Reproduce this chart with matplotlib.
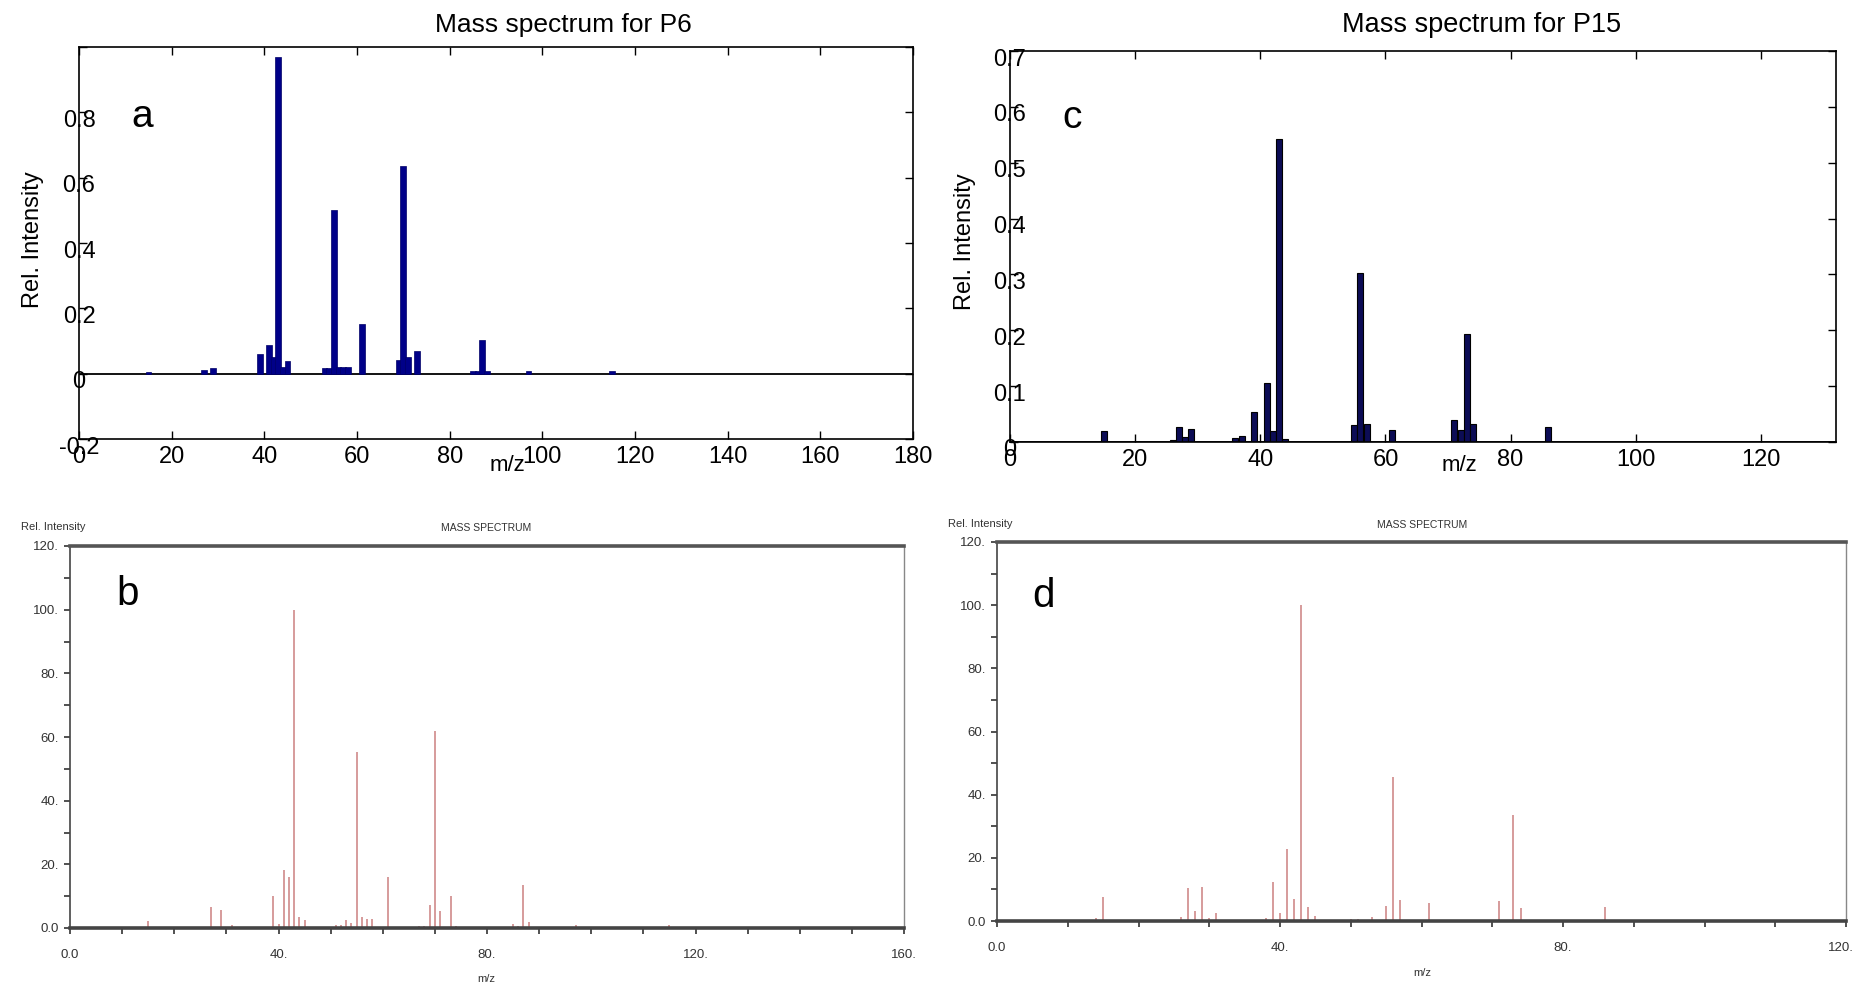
import matplotlib
matplotlib.use("Agg")
import matplotlib.pyplot as plt
import matplotlib.transforms as mtransforms
from matplotlib import font_manager

# figure size in pixels
W, H = 1857, 989

# panel a - measured spectrum P6
a_mz = [15, 27, 29, 39, 41, 42, 43, 44, 45, 53, 54, 55, 56, 57, 58, 61, 69, 70, 71, 73, 85, 86, 87, 88, 97, 115]
a_int = [0.005, 0.012, 0.017, 0.061, 0.087, 0.05, 0.97, 0.02, 0.04, 0.017, 0.017, 0.50, 0.02, 0.02, 0.02,
         0.152, 0.043, 0.635, 0.05, 0.068, 0.009, 0.009, 0.104, 0.009, 0.007, 0.007]

# panel b - library spectrum
b_mz = [15, 27, 29, 31, 39, 40, 41, 42, 43, 44, 45, 50, 51, 52, 53, 54, 55, 56, 57, 58, 61, 62,
        67, 68, 69, 70, 71, 73, 74, 85, 86, 87, 88, 97, 115]
b_int = [2.1, 6.7, 5.8, 1.0, 10.0, 1.4, 18.3, 16.0, 100, 3.5, 2.4, 0.3, 1.0, 0.8, 2.6, 1.6, 55.3, 3.5, 2.9, 2.9,
         16.0, 0.3, 0.5, 0.5, 7.1, 61.9, 5.2, 10.0, 0.5, 1.4, 0.5, 13.6, 1.9, 1.0, 1.0]

# panel c - measured spectrum P15
c_mz = [15, 26, 27, 28, 29, 36, 37, 39, 41, 42, 43, 44, 55, 56, 57, 61, 71, 72, 73, 74, 86]
c_int = [0.019, 0.003, 0.027, 0.009, 0.024, 0.007, 0.01, 0.054, 0.105, 0.02, 0.542, 0.006, 0.03, 0.302,
         0.032, 0.021, 0.039, 0.021, 0.193, 0.032, 0.027]

# panel d - library spectrum
d_mz = [14, 15, 26, 27, 28, 29, 30, 31, 37, 38, 39, 40, 41, 42, 43, 44, 45, 50, 51, 53, 55, 56, 57, 59,
        61, 71, 73, 74, 86, 101]
d_int = [0.8, 7.5, 1.2, 10.6, 3.3, 10.9, 1.1, 2.4, 0.3, 1.1, 12.3, 2.4, 22.8, 7.0, 100, 4.3, 1.6, 0.5, 0.5,
         1.2, 4.9, 45.5, 6.7, 0.3, 5.6, 6.4, 33.6, 4.0, 4.5, 0.3]


def pick(*names):
    for n in names:
        try:
            font_manager.findfont(n, fallback_to_default=False)
            return n
        except ValueError:
            pass
    return "DejaVu Sans"


SANS = pick("Liberation Sans", "DejaVu Sans")
plt.rcParams["font.family"] = SANS


def box(l, t, r, b):
    return [l / W, 1 - b / H, (r - l) / W, (b - t) / H]


def ftext(x, y, s, **kw):
    fig.text(x / W, 1 - y / H, s, ha="center", va="center", **kw)


fig = plt.figure(figsize=(W / 100, H / 100), dpi=100)
down = mtransforms.ScaledTranslation(0, -6 / 100, fig.dpi_scale_trans)


def matlab_axes(ax, xmax, ylim, yticks, ylabels):
    ax.set_xlim(0, xmax)
    ax.set_ylim(*ylim)
    ax.set_yticks(yticks)
    ax.set_yticklabels(ylabels)
    ax.axhline(0, color="black", lw=1.3, zorder=1)
    ax.tick_params(direction="in", top=True, right=True, length=6, width=1, labelsize=17)
    ax.tick_params(axis="y", pad=0)
    ax.tick_params(axis="x", pad=5)
    for lbl in ax.get_yticklabels():
        lbl.set_horizontalalignment("center")
        lbl.set_transform(lbl.get_transform() + down)
    for sp in ax.spines.values():
        sp.set_linewidth(1.2)


# ---- panel a
ax_a = fig.add_axes(box(79, 47, 913, 439))
ax_a.bar(a_mz, a_int, width=1.25, color="#000088", edgecolor="#000066", linewidth=0.5, zorder=2)
matlab_axes(ax_a, 180, (-0.2, 1.0), [-0.2, 0, 0.2, 0.4, 0.6, 0.8, 1.0],
            ["-0.2", "0", "0.2", "0.4", "0.6", "0.8", ""])
ax_a.set_xticks(range(0, 181, 20))
ftext(563, 25, "Mass spectrum for P6", fontsize=19)
ftext(33, 240, "Rel. Intensity", fontsize=17, rotation=90)
ftext(507, 466, "m/z", fontsize=16)
ftext(142, 117, "a", fontsize=28)

# ---- panel c
ax_c = fig.add_axes(box(1010, 51, 1836, 442))
ax_c.bar(c_mz, c_int, width=0.95, color="#0c0c55", edgecolor="black", linewidth=0.8, zorder=2)
matlab_axes(ax_c, 132, (0, 0.7), [0, 0.1, 0.2, 0.3, 0.4, 0.5, 0.6, 0.7],
            ["0", "0.1", "0.2", "0.3", "0.4", "0.5", "0.6", "0.7"])
ax_c.set_xticks(range(0, 121, 20))
ftext(1482, 25, "Mass spectrum for P15", fontsize=19.5)
ftext(965, 242, "Rel. Intensity", fontsize=17, rotation=90)
ftext(1459, 466, "m/z", fontsize=16)
ftext(1072, 118, "c", fontsize=28)


# ---- library spectra (b, d)
def library_axes(ax, xmax, xlabels):
    ax.set_xlim(0, xmax)
    ax.set_ylim(0, 120)
    ax.set_xticks(range(0, xmax + 1, 40))
    ax.set_xticklabels(xlabels)
    ax.set_xticks(range(0, xmax + 1, 10), minor=True)
    ax.set_yticks(range(0, 121, 20))
    ax.set_yticklabels(["0.0", "20.", "40.", "60.", "80.", "100.", "120."])
    ax.set_yticks(range(0, 121, 10), minor=True)
    ax.tick_params(which="both", direction="out", length=4, width=1.2, color="#333333",
                   labelsize=9.5, labelcolor="#333333")
    ax.tick_params(axis="x", pad=11)
    ax.tick_params(axis="y", pad=4)
    ax.spines["top"].set_linewidth(2.6)
    ax.spines["top"].set_color("#555555")
    ax.spines["bottom"].set_linewidth(2.6)
    ax.spines["bottom"].set_color("#444444")
    ax.spines["left"].set_linewidth(1.2)
    ax.spines["left"].set_color("#444444")
    ax.spines["right"].set_linewidth(1.0)
    ax.spines["right"].set_color("#888888")


ax_b = fig.add_axes(box(70, 546, 904, 928))
ax_b.vlines(b_mz, 0, b_int, color="#d08a8a", lw=1.2)
library_axes(ax_b, 160, ["0.0", "40.", "80.", "120.", "160."])
ftext(486, 528, "MASS SPECTRUM", fontsize=7.5, color="#333333")
ftext(53, 527, "Rel. Intensity", fontsize=8, color="#333333")
ftext(486, 979, "m/z", fontsize=8, color="#333333")
ftext(128, 594, "b", fontsize=29)

ax_d = fig.add_axes(box(997, 542, 1846, 921))
ax_d.vlines(d_mz, 0, d_int, color="#d08a8a", lw=1.2)
library_axes(ax_d, 120, ["0.0", "40.", "80.", "120."])
# keep the last label inside the canvas
left = mtransforms.ScaledTranslation(-5 / 100, 0, fig.dpi_scale_trans)
last = ax_d.get_xticklabels()[-1]
last.set_transform(last.get_transform() + left)
ftext(1422, 525, "MASS SPECTRUM", fontsize=7.5, color="#333333")
ftext(980, 524, "Rel. Intensity", fontsize=8, color="#333333")
ftext(1422, 973, "m/z", fontsize=8, color="#333333")
ftext(1043, 596, "d", fontsize=29)

fig.savefig("out.png", dpi=100)
